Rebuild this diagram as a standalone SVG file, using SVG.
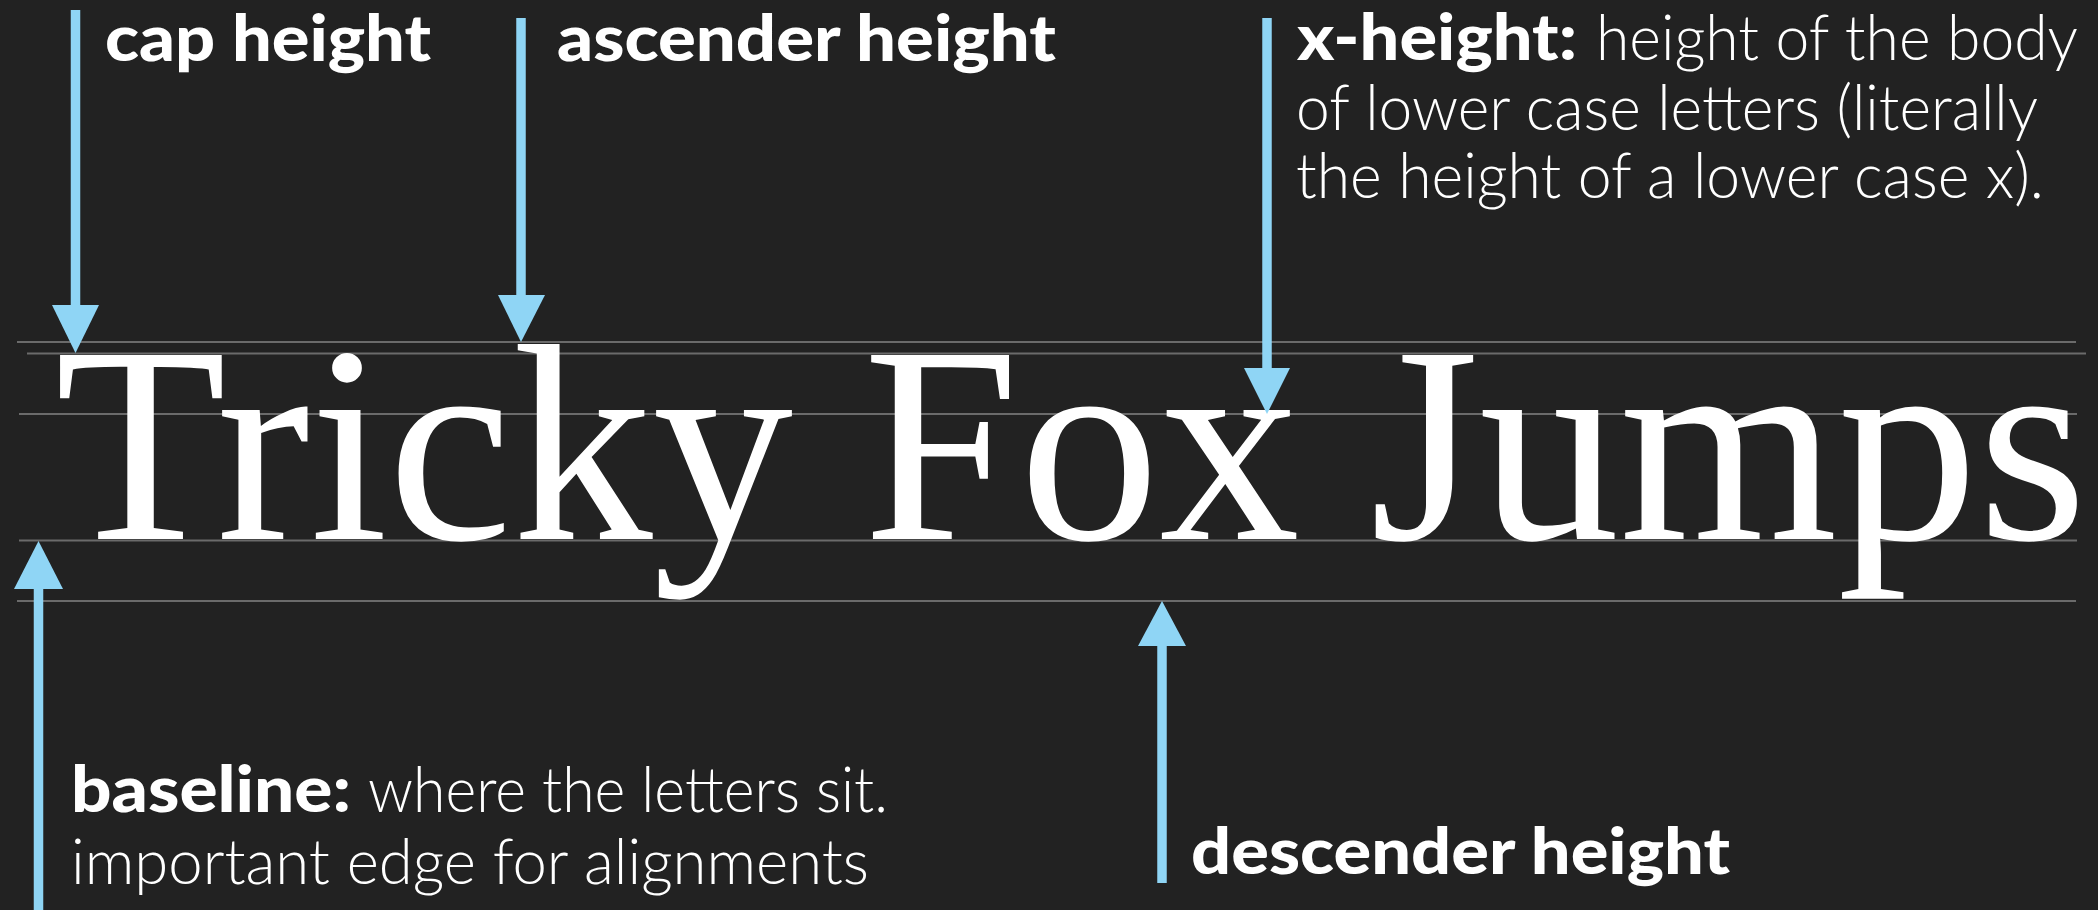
<svg xmlns="http://www.w3.org/2000/svg" width="2098" height="910" viewBox="0 0 2098 910">
  <style>
    .guide { stroke: #6b6b6b; stroke-width: 2; fill: none; }
    .shaft { stroke: #8fd5f5; stroke-width: 9.5; fill: none; }
    .head { fill: #8fd5f5; stroke: none; }
    .bold { font-family: Lato, "Open Sans", "Liberation Sans", sans-serif; font-weight: 900; font-size: 65px; fill: #ffffff; }
    .light { font-family: Lato, "Open Sans", "Liberation Sans", sans-serif; font-weight: 300; font-size: 64px; fill: #ffffff; }
    .sample { font-family: "Liberation Serif", "Times New Roman", serif; font-size: 281px; fill: #ffffff; }
  </style>
  <rect x="0" y="0" width="2098" height="910" fill="#222222"/>

  <g id="guides">
    <line class="guide" x1="17" y1="342" x2="2076" y2="342"/>
    <line class="guide" x1="27" y1="353.5" x2="2086" y2="353.5"/>
    <line class="guide" x1="19" y1="414" x2="2077" y2="414"/>
    <line class="guide" x1="19" y1="540.5" x2="2077" y2="540.5"/>
    <line class="guide" x1="17" y1="601" x2="2076" y2="601"/>
  </g>

  <g id="sample-text">
    <text class="sample" x="55" y="539" textLength="2032" lengthAdjust="spacingAndGlyphs">Tricky Fox Jumps</text>
  </g>

  <g id="connectors">
    <line class="shaft" x1="75.5" y1="10" x2="75.5" y2="310"/>
    <polygon class="head" points="52,305 99,305 75.5,353"/>
    <line class="shaft" x1="521" y1="18" x2="521" y2="300"/>
    <polygon class="head" points="498,295 545,295 521,342"/>
    <line class="shaft" x1="1267" y1="18" x2="1267" y2="373"/>
    <polygon class="head" points="1244,368 1290,368 1267,414"/>
    <line class="shaft" x1="38.5" y1="584" x2="38.5" y2="910"/>
    <polygon class="head" points="14,589 63,589 38.5,541"/>
    <line class="shaft" x1="1162" y1="641" x2="1162" y2="883"/>
    <polygon class="head" points="1138,646 1186,646 1162,601"/>
  </g>

  <g id="cap-height-label">
    <text class="bold" x="105" y="61" textLength="326" lengthAdjust="spacingAndGlyphs">cap height</text>
  </g>
  <g id="ascender-height-label">
    <text class="bold" x="557" y="61" textLength="499" lengthAdjust="spacingAndGlyphs">ascender height</text>
  </g>
  <g id="x-height-label">
    <text class="bold" x="1297" y="60" textLength="280" lengthAdjust="spacingAndGlyphs">x-height:</text>
    <text class="light" x="1596" y="60" textLength="482" lengthAdjust="spacingAndGlyphs">height of the body</text>
    <text class="light" x="1296" y="130" textLength="742" lengthAdjust="spacingAndGlyphs">of lower case letters (literally</text>
    <text class="light" x="1296" y="198" textLength="748" lengthAdjust="spacingAndGlyphs">the height of a lower case x).</text>
  </g>
  <g id="baseline-label">
    <text class="bold" x="71" y="812" textLength="280" lengthAdjust="spacingAndGlyphs">baseline:</text>
    <text class="light" x="368" y="812" textLength="520" lengthAdjust="spacingAndGlyphs">where the letters sit.</text>
    <text class="light" x="71" y="884" textLength="798" lengthAdjust="spacingAndGlyphs">important edge for alignments</text>
  </g>
  <g id="descender-height-label">
    <text class="bold" x="1191" y="874" textLength="539" lengthAdjust="spacingAndGlyphs">descender height</text>
  </g>
</svg>
